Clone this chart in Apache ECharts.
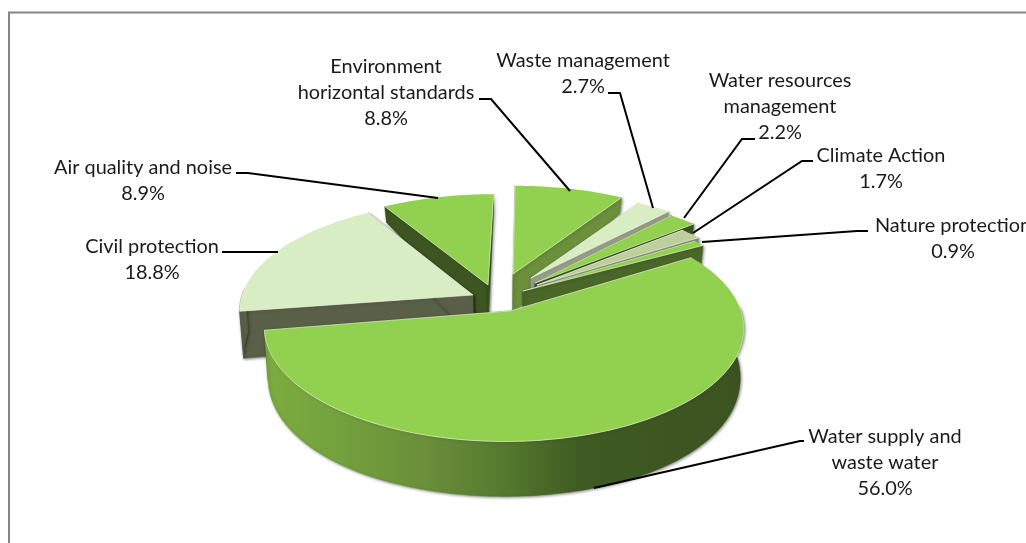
<!DOCTYPE html>
<html>
<head>
<meta charset="utf-8">
<style>html,body{margin:0;padding:0;background:#fff}#c{width:1026px;height:543px}</style>
<script src="https://cdn.jsdelivr.net/npm/echarts@6/dist/echarts.min.js"></script>
</head>
<body>
<div id="c"></div>
<script>
// ---- data (clockwise from the pie's 12 o'clock) ----
var categories = ['Environment horizontal standards','Waste management','Water resources management','Climate Action','Nature protection','Water supply and waste water','Civil protection','Air quality and noise'];
var values = [8.8, 2.7, 2.2, 1.7, 0.9, 56.0, 18.8, 8.9];
var labelLines = [['Environment','horizontal standards'],['Waste management'],['Water resources','management'],['Climate Action'],['Nature protection'],['Water supply and','waste water'],['Civil protection'],['Air quality and noise']];

// ---- styling and layout ----
var topColors  = ['#92d050','#d8edc3','#92d050','#bdd09c','#92d050','#92d050','#d8edc3','#92d050'];
var wallColors = ['#6b8f3a','#9aa08a','#3d5520','#8f9a7c','#4a6628','#5d8032','#5a6048','#3d5520'];
var sliceApex  = [[513,274],[531,278],[535,283],[537,285],[523,291],[510,311],[473,295],[488,285]];
var rimAdjust  = [[0.02,0,1],[0.02,-0.03,1],[0.01,-0.03,1],[-0.06,-0.08,1],[-0.02,-0.06,1],[-0.025,0,0.992],[0.012,0.02,1],[0.022,0,1]];
var labelPos   = [[386,67],[583,61],[780,81],[881,156],[953,226],[885,437],[152,247],[143,168]];
var leaders = [
  [[479,99],[491,99],[570,191]],
  [[608,93],[620,93],[653,208]],
  [[755,139],[742,139],[684,218]],
  [[813,161],[802,161],[693,233]],
  [[868,231],[857,231],[702,242]],
  [[804,441],[800,441],[594,488]],
  [[222,252],[278,252]],
  [[236,173],[248,173],[438,198]]
];
var drawOrder = [7,0,1,2,3,4,6,5];
var FONT = '19.9px Lato, Carlito, sans-serif';
var LINE_H = 26;
// pie plane -> screen
var P = {cx:498, cy:305, A:237, B:110, k:0.15, conv:0.985};

function project(u, v){
  var w = 1 + P.k*v;
  return [P.cx + P.A*u/w, P.cy - P.B*v/w];
}
function unproject(p){
  var y = (P.cy - p[1])/P.B, v = y/(1 - P.k*y), w = 1 + P.k*v;
  return [(p[0]-P.cx)*w/P.A, v];
}
function depth(v){ return Math.max(16, 46 - 19.5*v - 10.5*v*v); }
function lower(u, v){
  var p = project(u, v);
  return [P.cx + (p[0]-P.cx)*P.conv, p[1] + depth(v)];
}

// cumulative angles come from the values
var total = values.reduce(function(a,b){return a+b;},0);
var starts = [], acc = 0;
values.forEach(function(val){ starts.push(acc/total*Math.PI*2); acc += val; });

function sliceChildren(i){
  var a0 = starts[i], a1 = a0 + values[i]/total*Math.PI*2;
  var c = unproject(sliceApex[i]), adj = rimAdjust[i];
  var plane = [], facing = [], n = Math.max(6, Math.ceil((a1-a0)/(Math.PI/180)));
  for (var s=0; s<=n; s++){
    var t = a0 + (a1-a0)*s/n;
    var q = [c[0]+adj[0]+adj[2]*Math.sin(t), c[1]+adj[1]+adj[2]*Math.cos(t)];
    plane.push(q);
    if (Math.cos(t) < 0.05) facing.push(q);
  }
  var top = plane.map(function(q){return project(q[0],q[1]);});
  var low = plane.map(function(q){return lower(q[0],q[1]);});
  var ap = project(c[0],c[1]), apL = lower(c[0],c[1]);
  var shadow = {shadowColor:'rgba(0,0,0,0.45)', shadowBlur:3, shadowOffsetX:1, shadowOffsetY:1};
  var wall = function(pts, fill){
    return {type:'polygon', shape:{points:pts},
      style:Object.assign({fill:fill, stroke:fill, lineWidth:0.5}, shadow)};
  };
  var kids = [
    wall([top[0],low[0],apL,ap], wallColors[i]),
    wall([top[n],low[n],apL,ap], wallColors[i])
  ];
  if (facing.length > 1) {
    var rimFill = wallColors[i];
    if (categories[i].indexOf('Water supply') === 0) {
      rimFill = new echarts.graphic.LinearGradient(264,0,745,0,[
        {offset:0,color:'#7cad3f'},{offset:0.17,color:'#72a03c'},{offset:0.33,color:'#6b8f3a'},
        {offset:0.5,color:'#557a2e'},{offset:0.66,color:'#3f5a22'},{offset:1,color:'#3c5320'}],true);
    }
    var fTop = facing.map(function(q){return project(q[0],q[1]);});
    var fLow = facing.map(function(q){return lower(q[0],q[1]);});
    kids.push(wall(fTop.concat(fLow.reverse()), rimFill));
  }
  kids.push({type:'polygon', shape:{points:[ap].concat(top)}, style:{fill:topColors[i]}});
  var edge = {fill:'none', stroke:'rgba(240,246,230,0.85)', lineWidth:0.7};
  kids.push({type:'polyline', shape:{points:[top[0],ap,top[n]]}, style:edge});
  if (facing.length > 1) {
    kids.push({type:'polyline', shape:{points:facing.map(function(q){return project(q[0],q[1]);})}, style:edge});
  }
  return kids;
}

var chart = echarts.init(document.getElementById('c'), null, {renderer:'canvas'});
chart.setOption({
  animation:false,
  backgroundColor:'#fff',
  graphic:[{type:'rect', silent:true, z:0, shape:{x:9,y:12.5,width:1200,height:800},
            style:{fill:'#fff',stroke:'#868686',lineWidth:2}}],
  series:[
    {type:'custom', coordinateSystem:'none', silent:true, z:2,
     data:drawOrder.map(function(i){return {name:categories[i], value:[values[i], i]};}),
     renderItem:function(params, api){
       return {type:'group', children:sliceChildren(api.value(1))};
     }},
    {type:'custom', coordinateSystem:'none', silent:true, z:3,
     data:values.map(function(v,i){return {name:categories[i], value:[v,i]};}),
     renderItem:function(params, api){
       var i = api.value(1), val = api.value(0), kids = [];
       kids.push({type:'polyline', shape:{points:leaders[i]},
         style:{fill:'none', stroke:'#000', lineWidth:2}});
       labelLines[i].concat([val.toFixed(1)+'%']).forEach(function(t,j){
         kids.push({type:'text', style:{text:t, x:labelPos[i][0], y:labelPos[i][1]+j*LINE_H,
           align:'center', verticalAlign:'middle', font:FONT, fill:'#1a1a1a'}});
       });
       return {type:'group', children:kids};
     }}
  ]
});
</script>
</body>
</html>
